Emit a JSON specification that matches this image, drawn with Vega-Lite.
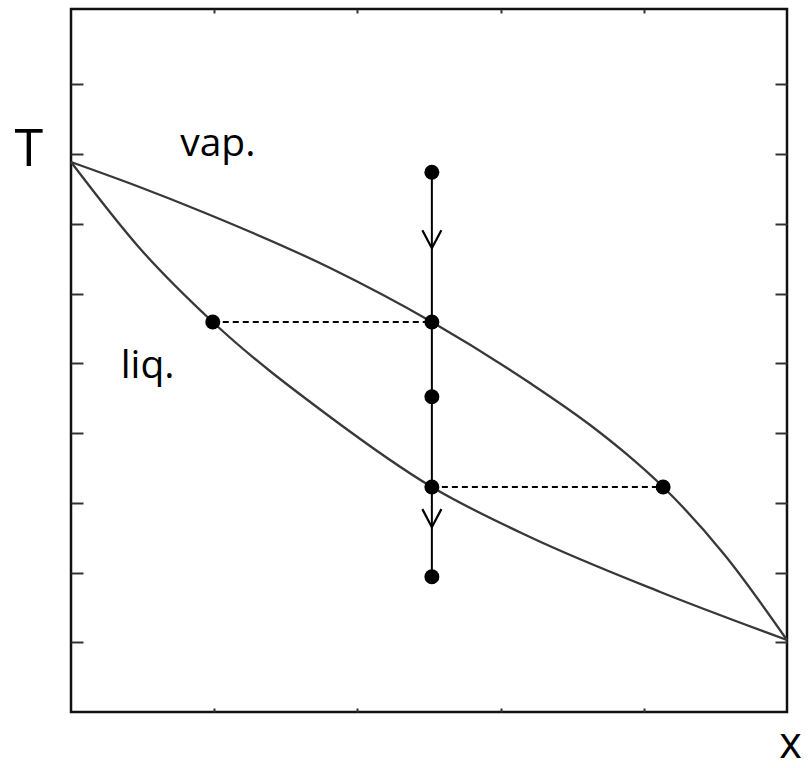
{
  "$schema": "https://vega.github.io/schema/vega-lite/v6.json",
  "width": 716,
  "height": 703,
  "autosize": {"type": "none"},
  "padding": {"left": 71, "top": 9, "right": 21, "bottom": 56},
  "background": "white",
  "config": {"view": {"stroke": "#111111", "strokeWidth": 2.5}, "font": "Open Sans"},
  "datasets": {
    "curves": [
      {"curve": "vap", "x": 0, "T": 7.886},
      {"curve": "vap", "x": 0.092, "T": 7.542},
      {"curve": "vap", "x": 0.184, "T": 7.170},
      {"curve": "vap", "x": 0.362, "T": 6.366},
      {"curve": "vap", "x": 0.504, "T": 5.592},
      {"curve": "vap", "x": 0.641, "T": 4.717},
      {"curve": "vap", "x": 0.725, "T": 4.115},
      {"curve": "vap", "x": 0.774, "T": 3.714},
      {"curve": "vap", "x": 0.827, "T": 3.226},
      {"curve": "vap", "x": 0.913, "T": 2.251},
      {"curve": "vap", "x": 1, "T": 1.032},
      {"curve": "liq", "x": 0, "T": 7.886},
      {"curve": "liq", "x": 0.096, "T": 6.65},
      {"curve": "liq", "x": 0.198, "T": 5.592},
      {"curve": "liq", "x": 0.362, "T": 4.23},
      {"curve": "liq", "x": 0.504, "T": 3.226},
      {"curve": "liq", "x": 0.641, "T": 2.509},
      {"curve": "liq", "x": 0.823, "T": 1.721},
      {"curve": "liq", "x": 1, "T": 1.032}
    ],
    "ties": [
      {"x": 0.198, "x2": 0.504, "T": 5.592},
      {"x": 0.504, "x2": 0.827, "T": 3.226}
    ],
    "path": [
      {"x": 0.504, "T": 7.74, "T2": 1.94}
    ],
    "points": [
      {"x": 0.504, "T": 7.74},
      {"x": 0.504, "T": 5.592},
      {"x": 0.504, "T": 4.52},
      {"x": 0.504, "T": 3.226},
      {"x": 0.504, "T": 1.94},
      {"x": 0.198, "T": 5.592},
      {"x": 0.827, "T": 3.226}
    ],
    "arrows": [
      {"x": 0.504, "T": 6.65},
      {"x": 0.504, "T": 2.65}
    ],
    "labels": [
      {"x": -0.059, "T": 7.83, "text": "T", "size": 52},
      {"x": 0.205, "T": 7.97, "text": "vap.", "size": 39},
      {"x": 0.107, "T": 4.79, "text": "liq.", "size": 39},
      {"x": 1.005, "T": -0.66, "text": "x", "size": 43}
    ]
  },
  "layer": [
    {
      "data": {"name": "curves"},
      "mark": {"type": "line", "interpolate": "monotone", "color": "#383838", "strokeWidth": 2.3},
      "encoding": {
        "x": {"field": "x", "type": "quantitative", "scale": {"domain": [0, 1], "nice": false, "zero": false},
          "axis": {"orient": "bottom", "values": [0.2, 0.4, 0.6, 0.8], "tickSize": -4, "tickWidth": 2, "tickColor": "#333333", "labels": false, "title": null, "domain": false, "grid": false}},
        "y": {"field": "T", "type": "quantitative", "scale": {"domain": [0, 10.08], "nice": false, "zero": false},
          "axis": {"orient": "left", "values": [1, 2, 3, 4, 5, 6, 7, 8, 9], "tickSize": -12, "tickWidth": 2, "tickColor": "#333333", "labels": false, "title": null, "domain": false, "grid": false}},
        "detail": {"field": "curve", "type": "nominal"}
      }
    },
    {
      "data": {"name": "ties"},
      "mark": {"type": "rule", "color": "#000000", "strokeWidth": 1.8, "strokeDash": [6, 4]},
      "encoding": {
        "x": {"field": "x", "type": "quantitative",
          "axis": {"orient": "top", "values": [0.2, 0.4, 0.6, 0.8], "tickSize": -4, "tickWidth": 2, "tickColor": "#333333", "labels": false, "title": null, "domain": false, "grid": false}},
        "x2": {"field": "x2"},
        "y": {"field": "T", "type": "quantitative",
          "axis": {"orient": "right", "values": [1, 2, 3, 4, 5, 6, 7, 8, 9], "tickSize": -12, "tickWidth": 2, "tickColor": "#333333", "labels": false, "title": null, "domain": false, "grid": false}}
      }
    },
    {
      "data": {"name": "path"},
      "mark": {"type": "rule", "color": "#000000", "strokeWidth": 2},
      "encoding": {
        "x": {"field": "x", "type": "quantitative", "axis": null},
        "y": {"field": "T", "type": "quantitative", "axis": null},
        "y2": {"field": "T2"}
      }
    },
    {
      "data": {"name": "arrows"},
      "mark": {"type": "point", "shape": "M-1,-1.9L0,0L1,-1.9", "filled": false, "stroke": "#000000", "strokeWidth": 2.2, "size": 361, "opacity": 1},
      "encoding": {
        "x": {"field": "x", "type": "quantitative", "axis": null},
        "y": {"field": "T", "type": "quantitative", "axis": null}
      }
    },
    {
      "data": {"name": "points"},
      "mark": {"type": "circle", "color": "#000000", "size": 225, "opacity": 1},
      "encoding": {
        "x": {"field": "x", "type": "quantitative", "axis": null},
        "y": {"field": "T", "type": "quantitative", "axis": null}
      }
    },
    {
      "data": {"name": "labels"},
      "mark": {"type": "text", "align": "center", "baseline": "alphabetic", "color": "#000000", "font": "Open Sans"},
      "encoding": {
        "x": {"field": "x", "type": "quantitative", "axis": null},
        "y": {"field": "T", "type": "quantitative", "axis": null},
        "text": {"field": "text"},
        "size": {"field": "size", "type": "quantitative", "scale": null, "legend": null}
      }
    }
  ],
  "resolve": {"axis": {"x": "independent", "y": "independent"}}
}
